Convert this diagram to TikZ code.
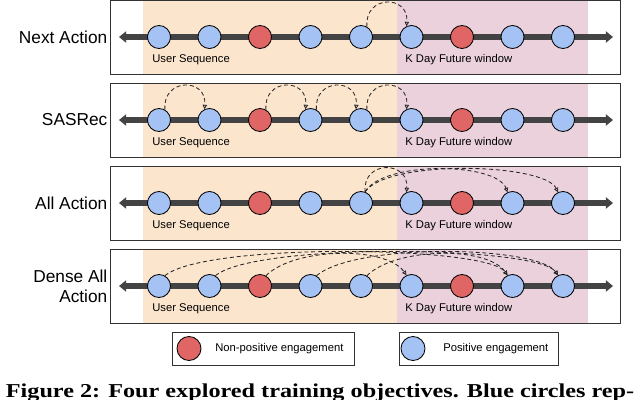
\documentclass[tikz,border=0pt]{standalone}
\usepackage{graphicx}
\usepackage{fontspec}
\setmainfont{Liberation Sans}
\newfontfamily\pie{Liberation Serif}
\usetikzlibrary{arrows.meta}

\definecolor{naranja}{HTML}{FCE5CD}
\definecolor{rosa}{HTML}{EAD1DC}
\definecolor{azul}{HTML}{A4C2F4}
\definecolor{rojo}{HTML}{E06666}
\definecolor{gris}{HTML}{434343}

\begin{document}
\begin{tikzpicture}[
    marco/.style    = {draw=black!80, line width=0.7pt},
    eje/.style      = {{Triangle[length=1.8mm,width=2.8mm]}-{Triangle[length=1.8mm,width=2.8mm]},
                       draw=gris, line width=1.5mm},
    bola/.style     = {circle, draw=black, fill=#1, line width=0.6pt,
                       minimum size=5.75mm, inner sep=0pt},
    arco/.style     = {-{Triangle[open,length=1.1mm,width=1.1mm]}, draw=black!85,
                       dash pattern=on 1mm off 0.7mm, line width=0.6pt},
    etiqueta/.style = {font=\fontsize{8}{9}\selectfont, anchor=west, inner sep=0pt},
    nombre/.style   = {font=\fontsize{12.3}{14.2}\selectfont, anchor=east,
                       align=right, inner sep=0pt},
    leyenda/.style  = {rectangle, draw=black!80, line width=0.6pt, minimum height=0.825cm},
  ]
  \useasboundingbox (0,0) rectangle (16,9.975);

  %-------------------------------------------------- filas
  \foreach \f/\y in {1/9.05, 2/6.975, 3/4.9, 4/2.825} {
    \fill[naranja] (3.575,\y-0.9375) rectangle (9.925,\y+0.9125);
    \fill[rosa]    (9.925,\y-0.9375) rectangle (14.7,\y+0.9125);
    \draw[marco]   (2.7625,\y-0.9375) rectangle (15.5,\y+0.9125);
    \coordinate (ini\f) at (2.975,\y);
    \coordinate (fin\f) at (15.325,\y);
    \draw[eje] (ini\f) -- (fin\f);
    \foreach \i/\c in {1/azul,2/azul,3/rojo,4/azul,5/azul,6/azul,7/rojo,8/azul,9/azul}
      \node[bola=\c] (c\f-\i) at ({3.975+1.2625*(\i-1)},\y) {};
    \node[etiqueta] (us\f) at (3.8,\y-0.575)    {User Sequence};
    \node[etiqueta] (kd\f) at (10.125,\y-0.575) {K Day Future window};
  }

  \node[nombre] (n1) at (2.69,9.05)  {Next Action};
  \node[nombre] (n2) at (2.69,6.975) {SASRec};
  \node[nombre] (n3) at (2.69,4.9)   {All Action};
  \node[nombre] (n4) at (2.69,2.825) {Dense All\\Action};

  %-------------------------------------------------- next action
  \draw[arco] (c1-5.60) .. controls +(95:0.8) and +(85:0.8) .. (c1-6.115);

  %-------------------------------------------------- sasrec
  \foreach \a/\b in {1/2, 3/4, 4/5, 5/6}
    \draw[arco] (c2-\a.60) .. controls +(95:0.8) and +(85:0.8) .. (c2-\b.115);

  %-------------------------------------------------- all action
  \draw[arco] (c3-5.70) .. controls +(95:0.8) and +(85:0.8) .. (c3-6.115);
  \draw[arco] (c3-5.70) .. controls +(60:0.9) and +(110:0.8) .. (c3-8.115);
  \draw[arco] (c3-5.70) .. controls +(55:1.0) and +(115:0.8) .. (c3-9.115);

  %-------------------------------------------------- dense all action
  \draw[arco] (c4-1.60) .. controls +(40:1.3) and +(125:0.9) .. (c4-8.115);
  \draw[arco] (c4-2.60) .. controls +(40:1.3) and +(125:0.9) .. (c4-9.115);
  \draw[arco] (c4-3.60) .. controls +(45:1.0) and +(125:0.9) .. (c4-6.115);
  \draw[arco] (c4-4.60) .. controls +(40:1.3) and +(125:0.9) .. (c4-9.115);
  \draw[arco] (c4-5.60) .. controls +(45:1.0) and +(125:0.9) .. (c4-8.115);

  %-------------------------------------------------- leyenda
  \node[leyenda, minimum width=4.53cm]  (ley1) at (6.585,1.2625) {};
  \node[leyenda, minimum width=3.995cm] (ley2) at (11.9725,1.2625) {};
  \node[bola=rojo, minimum size=6mm] (lr) at (4.725,1.2625) {};
  \node[etiqueta] (tr) at (5.375,1.2625) {Non-positive engagement};
  \node[bola=azul, minimum size=6mm] (la) at (10.325,1.2625) {};
  \node[etiqueta] (ta) at (11.075,1.2625) {Positive engagement};

  %-------------------------------------------------- pie
  \node[anchor=base, inner sep=0pt, font=\pie\bfseries\fontsize{14}{16}\selectfont]
    (pie) at (8,0.03)
    {\scalebox{1.23}[1]{Figure 2: Four explored training objectives. Blue circles rep-}};
\end{tikzpicture}
\end{document}
